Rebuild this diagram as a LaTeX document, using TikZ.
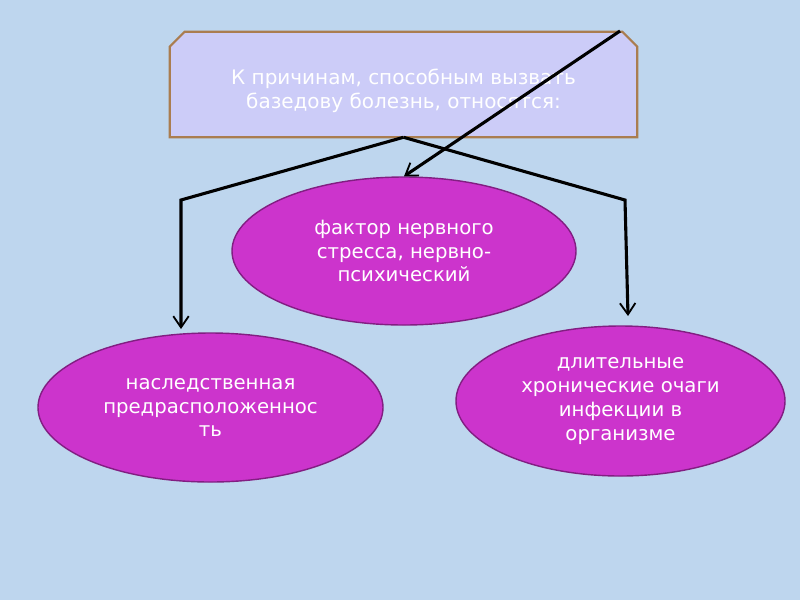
\documentclass[tikz,border=0pt]{standalone}
\usepackage{fontspec}
\setmainfont{DejaVu Sans}
\usetikzlibrary{shapes.geometric,arrows.meta}

\definecolor{sky}{RGB}{190,214,238}
\definecolor{lilac}{RGB}{204,204,248}
\definecolor{tan}{RGB}{170,125,80}
\definecolor{orchid}{RGB}{204,52,204}
\definecolor{plum}{RGB}{130,30,130}

\tikzset{
  cause/.style={rectangle, inner sep=0pt},
  factor/.style={ellipse, draw=plum, line width=1pt, fill=orchid, inner sep=0pt,
    text=white, align=center, font=\fontsize{14}{17}\selectfont},
  link/.style={line width=2.2pt, -{Straight Barb[length=8pt,width=11pt,line width=1.3pt]}},
}

\begin{document}
\begin{tikzpicture}[x=0.025cm,y=-0.025cm]
% Configurable parameters
\def\px{0.025cm}
\def\chamfer{15}

% Background
\fill[sky] (0,0) rectangle (800,600);

% Heading box
\node[cause, minimum width=467*\px, minimum height=105*\px] (head) at (403.5,84.5) {};
\filldraw[draw=tan, line width=1.5pt, fill=lilac]
  (head.south west) -- ([yshift=-\chamfer*\px]head.north west)
  -- ([xshift=\chamfer*\px]head.north west) -- ([xshift=-\chamfer*\px]head.north east)
  -- ([yshift=-\chamfer*\px]head.north east) -- (head.south east) -- cycle;
\node[text=white, align=center, font=\fontsize{14.2}{17.5}\selectfont] (headtext) at (403.5,91)
  {К причинам, способным вызвать\\базедову болезнь, относятся:};

% Causes
\node[factor, minimum width=344*\px, minimum height=148*\px] (stress) at (404,251)
  {фактор нервного\\стресса, нервно-\\психический};
\node[factor, minimum width=345*\px, minimum height=149*\px] (heredity) at (210.5,407.5)
  {наследственная\\предрасположеннос\\ть};
\node[factor, minimum width=329*\px, minimum height=150*\px] (infection) at (620.5,401)
  {длительные\\хронические очаги\\инфекции в\\организме};

% Connectors
\coordinate (lbend) at (181,200);
\coordinate (ltip) at (181,329);
\coordinate (rbend) at (625,200);
\coordinate (rtip) at (628,316);
\coordinate (corner) at (620,31);
\draw[link] (head.south) -- (lbend) -- (ltip);
\draw[link] (head.south) -- (rbend) -- (rtip);
\draw[link] (corner) -- (stress.north);
\end{tikzpicture}
\end{document}
